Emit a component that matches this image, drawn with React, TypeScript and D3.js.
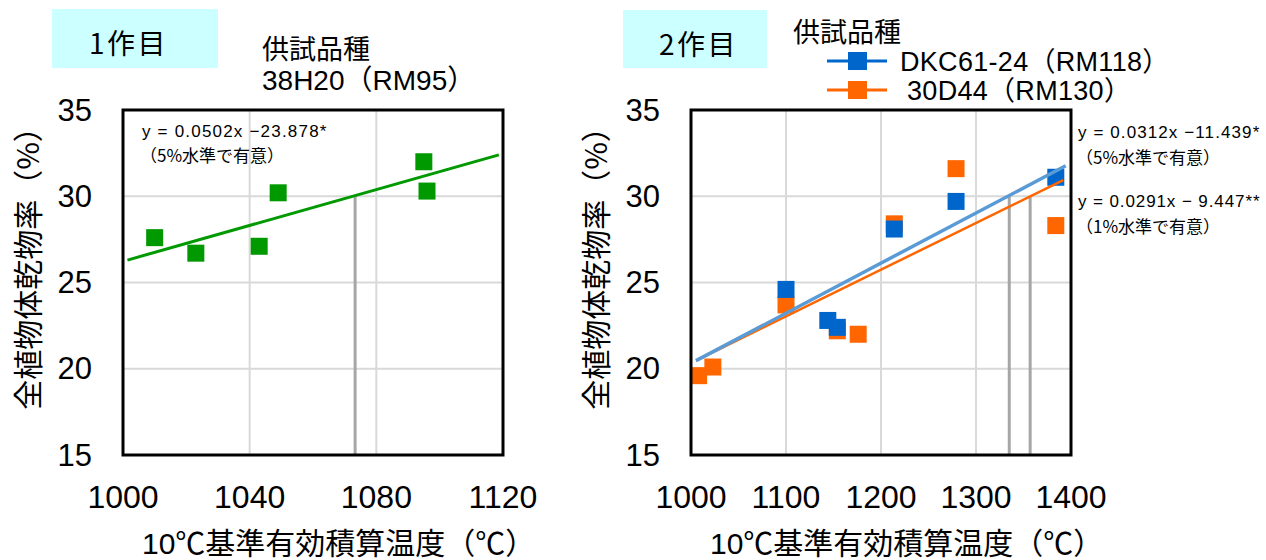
import React from "react";
import * as d3 from "d3";

// ---------- data ----------
const yTicks = [15, 20, 25, 30, 35];
const x1Ticks = [1000, 1040, 1080, 1120];
const x2Ticks = [1000, 1100, 1200, 1300, 1400];

// 1作目 38H20 (RM95)
const h38X = [1010, 1023, 1043, 1049, 1095, 1096];
const h38Y = [27.6, 26.7, 27.1, 30.2, 32.0, 30.3];
const h38TrendX = [1001.4, 1118.7];
const h38TrendY = [26.3, 32.4];
const h38MarkX = [1073.3];

// 2作目 DKC61-24 (RM118)
const dkcX = [1100, 1144, 1154, 1214, 1279, 1384];
const dkcY = [24.6, 22.8, 22.4, 28.1, 29.7, 31.1];
const dkcTrendX = [1005.3, 1394.4];
const dkcTrendY = [20.47, 31.77];
// 2作目 30D44 (RM130)
const d44X = [1008, 1023, 1100, 1154, 1176, 1214, 1279, 1384];
const d44Y = [19.6, 20.1, 23.7, 22.2, 22.0, 28.4, 31.6, 28.3];
const d44TrendX = [1005.3, 1391.9];
const d44TrendY = [20.47, 30.94];
const markX2 = [1335, 1357];
const markY = 30;

// ---------- style ----------
const FONT = "'Liberation Sans', Arial, 'Noto Sans CJK JP', sans-serif";
const CJK = "'Noto Sans CJK JP', 'Liberation Sans', sans-serif";
const GREEN = "#009900";
const BLUE = "#0066CC";
const BLUE_LINE = "#5B9BD5";
const ORANGE = "#FF6600";
const GRID = "#D9D9D9";
const MARK = "#A6A6A6";
const SQ = 17;

type Panel = { l: number; r: number; t: number; b: number };
const P1: Panel = { l: 123, r: 503, t: 110, b: 455 };
const P2: Panel = { l: 691, r: 1071, t: 110, b: 455 };

function Frame({ p, xs, xTicks }: { p: Panel; xs: d3.ScaleLinear<number, number>; xTicks: number[] }) {
  const ys = d3.scaleLinear().domain([15, 35]).range([p.b, p.t]);
  return (
    <g>
      {yTicks.slice(1, -1).map((t) => (
        <line key={"h" + t} x1={p.l} x2={p.r} y1={ys(t)} y2={ys(t)} stroke={GRID} strokeWidth={2} />
      ))}
      {xTicks.slice(1, -1).map((t) => (
        <line key={"v" + t} x1={xs(t)} x2={xs(t)} y1={p.t} y2={p.b} stroke={GRID} strokeWidth={2} />
      ))}
      {yTicks.map((t) => (
        <text key={"yl" + t} x={p.l - 31} y={ys(t)} textAnchor="end" dominantBaseline="central" fontSize={31} fontFamily={FONT} fill="#000">
          {t}
        </text>
      ))}
      {xTicks.map((t) => (
        <text key={"xl" + t} x={xs(t)} y={508} textAnchor="middle" fontSize={32} fontFamily={FONT} fill="#000">
          {t}
        </text>
      ))}
    </g>
  );
}

function Border({ p }: { p: Panel }) {
  return <rect x={p.l} y={p.t} width={p.r - p.l} height={p.b - p.t} fill="none" stroke="#000" strokeWidth={3} />;
}

function Squares({ xs, ys, X, Y, color }: any) {
  return (
    <g>
      {X.map((x: number, i: number) => (
        <rect key={i} x={xs(x) - SQ / 2} y={ys(Y[i]) - SQ / 2} width={SQ} height={SQ} fill={color} />
      ))}
    </g>
  );
}

export default function App() {
  const ys = d3.scaleLinear().domain([15, 35]).range([P1.b, P1.t]);
  const xs1 = d3.scaleLinear().domain([1000, 1120]).range([P1.l, P1.r]);
  const xs2 = d3.scaleLinear().domain([1000, 1400]).range([P2.l, P2.r]);
  const line1 = d3.line<number>().x((d) => xs1(h38TrendX[d])).y((d) => ys(h38TrendY[d]));
  const lineB = d3.line<number>().x((d) => xs2(dkcTrendX[d])).y((d) => ys(dkcTrendY[d]));
  const lineO = d3.line<number>().x((d) => xs2(d44TrendX[d])).y((d) => ys(d44TrendY[d]));

  return (
    <svg width={1266} height={560} style={{ position: "absolute", left: 0, top: 0, background: "#fff" }}>
      <rect width={1266} height={560} fill="#fff" />
      {/* ---------- panel 1 ---------- */}
      <rect x={52} y={9} width={166} height={59} fill="#CCFFFF" />
      <text x={89} y={54} fontSize={28} fontFamily={CJK} letterSpacing={2.5}>1作目</text>
      <text x={262} y={59} fontSize={27} fontFamily={CJK}>供試品種</text>
      <text x={262} y={90} fontSize={28} fontFamily={FONT}>38H20（RM95）</text>
      <Frame p={P1} xs={xs1} xTicks={x1Ticks} />
      {h38MarkX.map((m) => (
        <line key={m} x1={xs1(m)} x2={xs1(m)} y1={ys(markY)} y2={P1.b} stroke={MARK} strokeWidth={3} />
      ))}
      <Squares xs={xs1} ys={ys} X={h38X} Y={h38Y} color={GREEN} />
      <path d={line1([0, 1]) || ""} stroke={GREEN} strokeWidth={3} fill="none" />
      <text x={142} y={137} fontSize={17} fontFamily={FONT} letterSpacing={1.2}>y = 0.0502x −23.878*</text>
      <text x={140} y={162} fontSize={17} fontFamily={CJK}>（5%水準で有意）</text>
      <Border p={P1} />
      <text transform={`translate(26,261) rotate(-90)`} textAnchor="middle" dominantBaseline="central" fontSize={30} fontFamily={CJK}>
        全植物体乾物率（%）
      </text>
      <text x={142} y={554} fontSize={30} fontFamily={FONT}>10℃基準有効積算温度（℃）</text>

      {/* ---------- panel 2 ---------- */}
      <rect x={623} y={10} width={144} height={58} fill="#CCFFFF" />
      <text x={659} y={55} fontSize={28} fontFamily={CJK} letterSpacing={2.5}>2作目</text>
      <text x={793} y={42} fontSize={27} fontFamily={CJK}>供試品種</text>
      <line x1={827} x2={887} y1={61} y2={61} stroke={BLUE} strokeWidth={3} />
      <rect x={848} y={52} width={19} height={18} fill={BLUE} />
      <text x={900} y={71} fontSize={27} fontFamily={FONT} letterSpacing={0.3}>DKC61-24（RM118）</text>
      <line x1={827} x2={887} y1={90} y2={90} stroke={ORANGE} strokeWidth={3} />
      <rect x={848} y={81} width={19} height={18} fill={ORANGE} />
      <text x={907} y={100} fontSize={27} fontFamily={FONT} letterSpacing={0.3}>30D44（RM130）</text>
      <Frame p={P2} xs={xs2} xTicks={x2Ticks} />
      {markX2.map((m) => (
        <line key={m} x1={xs2(m)} x2={xs2(m)} y1={ys(markY)} y2={P2.b} stroke={MARK} strokeWidth={3} />
      ))}
      <Squares xs={xs2} ys={ys} X={d44X} Y={d44Y} color={ORANGE} />
      <Squares xs={xs2} ys={ys} X={dkcX} Y={dkcY} color={BLUE} />
      <path d={lineO([0, 1]) || ""} stroke={ORANGE} strokeWidth={2.5} fill="none" />
      <path d={lineB([0, 1]) || ""} stroke={BLUE_LINE} strokeWidth={3.5} fill="none" />
      <Border p={P2} />
      <text x={1078} y={138} fontSize={17} fontFamily={FONT} letterSpacing={1.1}>y = 0.0312x −11.439*</text>
      <text x={1076} y={164} fontSize={17} fontFamily={CJK}>（5%水準で有意）</text>
      <text x={1078} y={207} fontSize={17} fontFamily={FONT} letterSpacing={0.9}>y = 0.0291x − 9.447**</text>
      <text x={1076} y={233} fontSize={17} fontFamily={CJK}>（1%水準で有意）</text>
      <text transform={`translate(594,261) rotate(-90)`} textAnchor="middle" dominantBaseline="central" fontSize={30} fontFamily={CJK}>
        全植物体乾物率（%）
      </text>
      <text x={710} y={554} fontSize={30} fontFamily={FONT}>10℃基準有効積算温度（℃）</text>
    </svg>
  );
}
